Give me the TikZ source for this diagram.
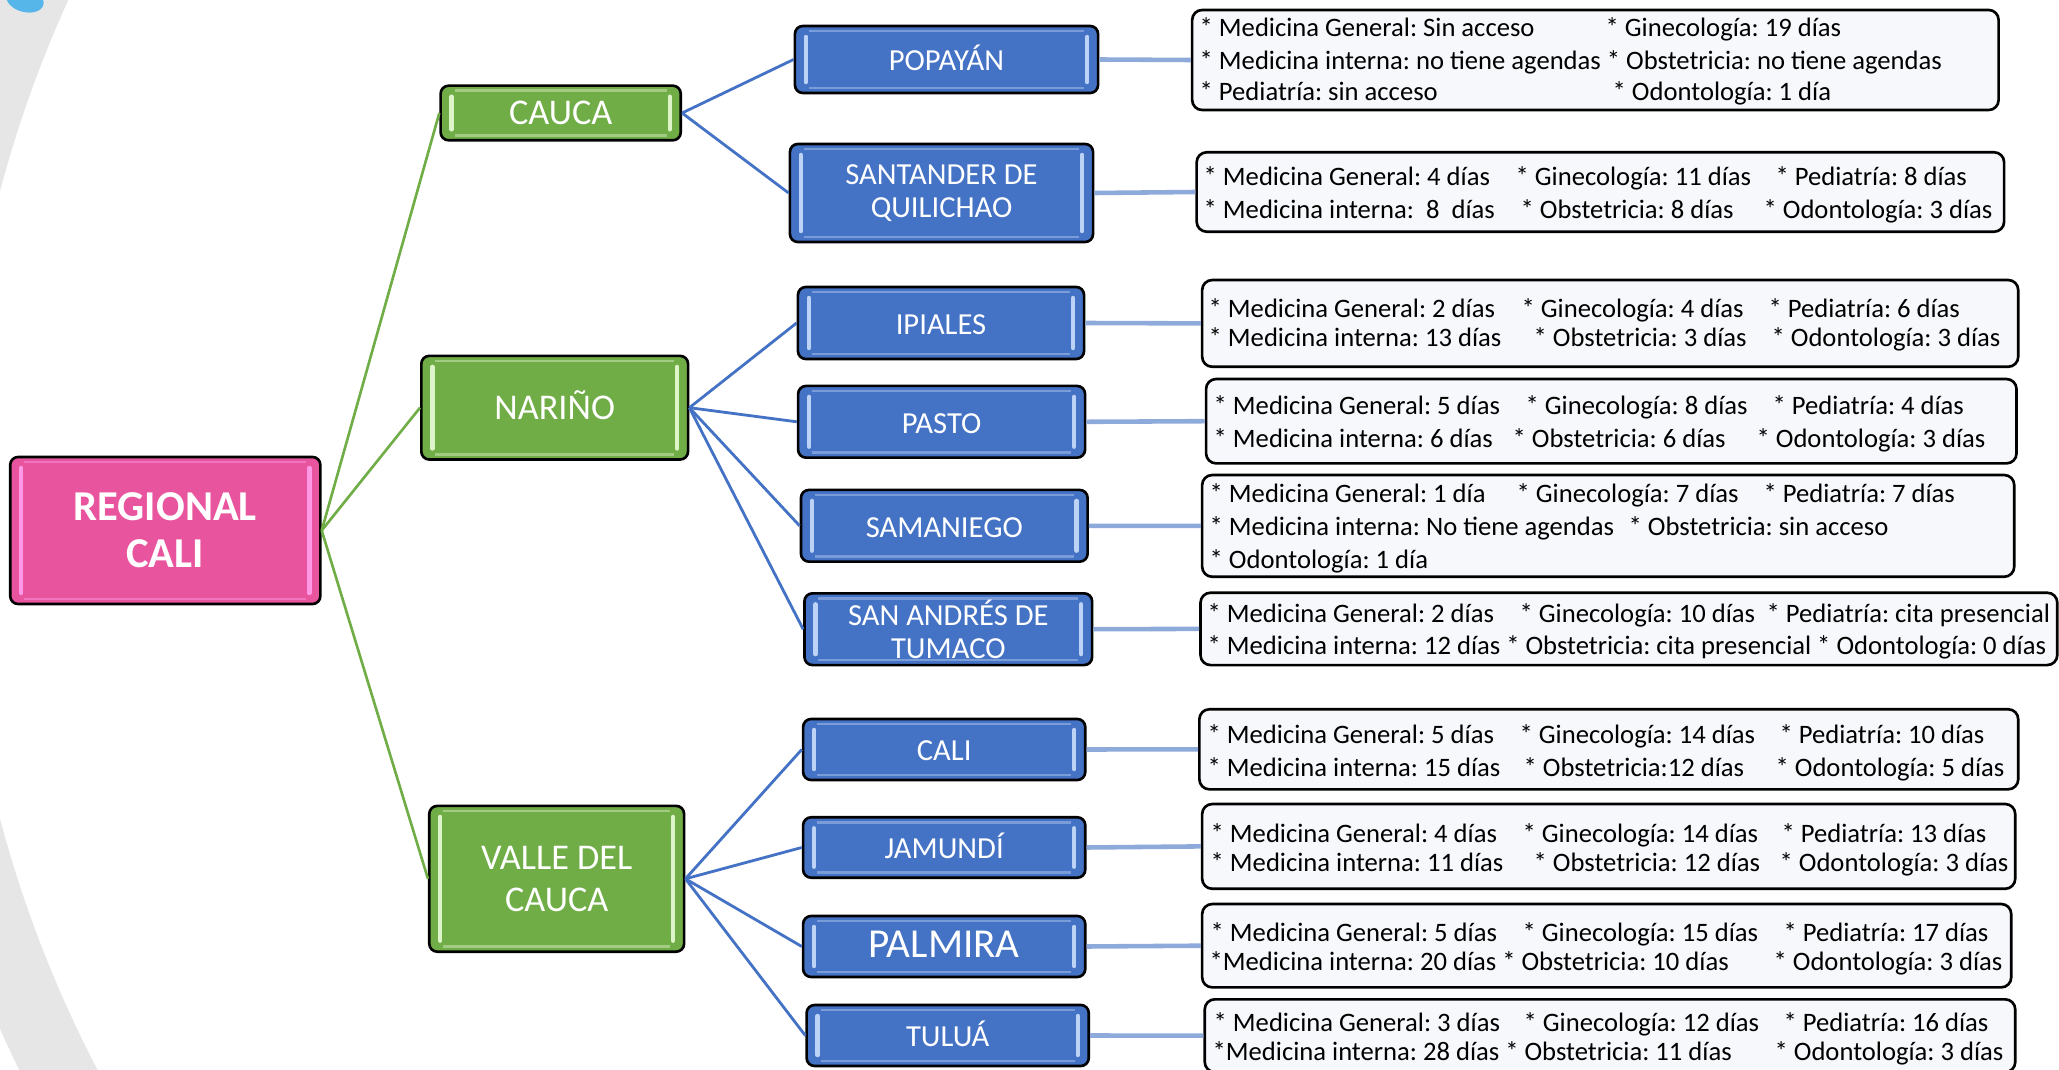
\documentclass[tikz,border=0pt]{standalone}
\usepackage{fontspec}
\setmainfont{Carlito}
\frenchspacing
\newlength\pxu \setlength\pxu{0.01cm}
\newcommand\cl[2]{\makebox[#1\pxu][l]{#2}}
\definecolor{pinkfill}{HTML}{E8549E}
\definecolor{pinkhl}{HTML}{FF99E6}
\definecolor{greenfill}{HTML}{70AD47}
\definecolor{greenhl}{HTML}{DDF3C8}
\definecolor{bluefill}{HTML}{4472C4}
\definecolor{bluehl}{HTML}{BCD3F5}
\definecolor{linkblue}{HTML}{4472C4}
\definecolor{linkgreen}{HTML}{70AD47}
\definecolor{linklight}{HTML}{8EAADB}
\definecolor{infofill}{HTML}{F6F8FB}
\definecolor{ringgray}{HTML}{E6E6E6}
\definecolor{blobblue}{HTML}{56B6EA}
\tikzset{
  tbox/.style={draw=black, line width=0.75pt, rounded corners=0.08cm, text=white, align=center, inner sep=0pt,
    path picture={
      \draw[line width=0.7pt, draw=#1, opacity=0.45]
        ([xshift=0.14cm,yshift=-0.05cm]path picture bounding box.north west) -- ([xshift=-0.14cm,yshift=-0.05cm]path picture bounding box.north east)
        ([xshift=0.14cm,yshift=0.05cm]path picture bounding box.south west) -- ([xshift=-0.14cm,yshift=0.05cm]path picture bounding box.south east);
      \draw[line width=1.25pt, line cap=round, draw=#1]
        ([xshift=0.11cm,yshift=-0.11cm]path picture bounding box.north west) -- ([xshift=0.11cm,yshift=0.11cm]path picture bounding box.south west)
        ([xshift=-0.11cm,yshift=-0.11cm]path picture bounding box.north east) -- ([xshift=-0.11cm,yshift=0.11cm]path picture bounding box.south east);}},
  oneline/.style={text height=0.644em, text depth=0pt},
  regbox/.style={tbox=pinkhl, fill=pinkfill, font=\bfseries\fontsize{12.1pt}{13.4pt}\selectfont},
  dptbox/.style={tbox=greenhl, fill=greenfill, font=\fontsize{10.3pt}{12pt}\selectfont},
  citybox/.style={tbox=bluehl, fill=bluefill, font=\fontsize{8.7pt}{9.4pt}\selectfont},
  infobox/.style={draw=black, line width=0.75pt, rounded corners=0.1cm, fill=infofill, inner sep=0pt},
  infotext/.style={anchor=base west, inner sep=0pt, font=\fontsize{7.57pt}{9pt}\selectfont, text=black},
  glink/.style={draw=linkgreen, line width=0.75pt},
  blink/.style={draw=linkblue, line width=0.8pt},
  llink/.style={draw=linklight, line width=1.3pt},
}
\begin{document}
\begin{tikzpicture}[x=0.01cm, y=-0.01cm]
\useasboundingbox (0,0) rectangle (2059,1070);
\begin{scope}
  \clip (0,0) rectangle (2059,1070);
  \fill[ringgray, even odd rule] (1180,505) circle[radius=12.9cm] (1180,505) circle[radius=12.2cm];
  \fill[blobblue, rotate around={-15:(25,0)}] (25,0) ellipse [x radius=0.19cm, y radius=0.12cm];
\end{scope}

% main boxes
\node[regbox, minimum width=3.10cm, minimum height=1.47cm] (reg) at (165.3,530.5) {REGIONAL\\CALI};
\node[dptbox, oneline, minimum width=2.40cm, minimum height=0.546cm] (cauca) at (560.7,113) {CAUCA};
\node[dptbox, oneline, minimum width=2.666cm, minimum height=1.036cm] (narino) at (554.7,407.7) {NARIÑO};
\node[dptbox, minimum width=2.547cm, minimum height=1.457cm] (valle) at (556.7,878.8) {VALLE DEL\\CAUCA};

\node[citybox, oneline, minimum width=3.03cm, minimum height=0.67cm] (pop) at (946.5,59.5) {POPAYÁN};
\node[citybox, minimum width=3.03cm, minimum height=0.98cm] (sant) at (941.5,193) {SANTANDER DE\\QUILICHAO};
\node[citybox, oneline, minimum width=2.86cm, minimum height=0.72cm] (ipi) at (941,323) {IPIALES};
\node[citybox, oneline, minimum width=2.868cm, minimum height=0.717cm] (pasto) at (941.6,421.8) {PASTO};
\node[citybox, oneline, minimum width=2.865cm, minimum height=0.717cm] (sama) at (944.3,525.8) {SAMANIEGO};
\node[citybox, minimum width=2.875cm, minimum height=0.717cm] (tum) at (948.3,629.2) {SAN ANDRÉS DE\\TUMACO};
\node[citybox, oneline, minimum width=2.82cm, minimum height=0.61cm] (cali) at (944.2,749.5) {CALI};
\node[citybox, oneline, minimum width=2.82cm, minimum height=0.604cm] (jam) at (944.2,847.5) {JAMUNDÍ};
\node[citybox, oneline, minimum width=2.82cm, minimum height=0.61cm, font=\fontsize{11.7pt}{12pt}\selectfont] (pal) at (944.2,946.5) {PALMIRA};
\node[citybox, oneline, minimum width=2.82cm, minimum height=0.61cm] (tul) at (947.7,1035.5) {TULUÁ};

% info boxes
\node[infobox, minimum width=8.06cm, minimum height=1.00cm] (i1) at (1595.4,60) {};
\node[infobox, minimum width=8.07cm, minimum height=0.794cm] (i2) at (1600.4,192) {};
\node[infobox, minimum width=8.156cm, minimum height=0.867cm] (i3) at (1610.2,323.4) {};
\node[infobox, minimum width=8.10cm, minimum height=0.843cm] (i4) at (1611.3,421.2) {};
\node[infobox, minimum width=8.116cm, minimum height=1.017cm] (i5) at (1608.2,525.9) {};
\node[infobox, minimum width=8.563cm, minimum height=0.723cm] (i6) at (1628.9,628.9) {};
\node[infobox, minimum width=8.184cm, minimum height=0.80cm] (i7) at (1608.8,749.3) {};
\node[infobox, minimum width=8.126cm, minimum height=0.847cm] (i8) at (1608.7,846.4) {};
\node[infobox, minimum width=8.086cm, minimum height=0.833cm] (i9) at (1606.7,945.7) {};
\node[infobox, minimum width=8.10cm, minimum height=0.727cm] (i10) at (1610,1035.7) {};

% info texts
\node[infotext] (t1a) at (1199,37) {\cl{406}{* Medicina General: Sin acceso}* Ginecología: 19 días};
\node[infotext] (t1b) at (1199,70) {* Medicina interna: no tiene agendas * Obstetricia: no tiene agendas};
\node[infotext] (t1c) at (1199,101) {\cl{413}{* Pediatría: sin acceso}* Odontología: 1 día};

\node[infotext] (t2a) at (1203,186) {\cl{312}{* Medicina General: 4 días}\cl{260}{* Ginecología: 11 días}* Pediatría: 8 días};
\node[infotext] (t2b) at (1203,219) {\cl{317}{* Medicina interna:\ \ 8\ \ días}\cl{243}{* Obstetricia: 8 días}* Odontología: 3 días};

\node[infotext] (t3a) at (1208,318) {\cl{313}{* Medicina General: 2 días}\cl{247}{* Ginecología: 4 días}* Pediatría: 6 días};
\node[infotext] (t3b) at (1208,347) {\cl{325}{* Medicina interna: 13 días}\cl{238}{* Obstetricia: 3 días}* Odontología: 3 días};

\node[infotext] (t4a) at (1213,415) {\cl{312}{* Medicina General: 5 días}\cl{247}{* Ginecología: 8 días}* Pediatría: 4 días};
\node[infotext] (t4b) at (1213,448) {\cl{299}{* Medicina interna: 6 días}\cl{244}{* Obstetricia: 6 días}* Odontología: 3 días};

\node[infotext] (t5a) at (1209,503) {\cl{307}{* Medicina General: 1 día}\cl{247}{* Ginecología: 7 días}* Pediatría: 7 días};
\node[infotext] (t5b) at (1209,536) {\cl{419}{* Medicina interna: No tiene agendas}* Obstetricia: sin acceso};
\node[infotext] (t5c) at (1209,568) {* Odontología: 1 día};

\node[infotext] (t6a) at (1207,623) {\cl{312}{* Medicina General: 2 días}\cl{247}{* Ginecología: 10 días}* Pediatría: cita presencial};
\node[infotext] (t6b) at (1207,655) {* Medicina interna: 12 días * Obstetricia: cita presencial * Odontología: 0 días};

\node[infotext] (t7a) at (1207,743) {\cl{312}{* Medicina General: 5 días}\cl{260}{* Ginecología: 14 días}* Pediatría: 10 días};
\node[infotext] (t7b) at (1207,776) {\cl{316}{* Medicina interna: 15 días}\cl{252}{* Obstetricia:12 días}* Odontología: 5 días};

\node[infotext] (t8a) at (1210,842) {\cl{312}{* Medicina General: 4 días}\cl{259}{* Ginecología: 14 días}* Pediatría: 13 días};
\node[infotext] (t8b) at (1210,871) {\cl{323}{* Medicina interna: 11 días}\cl{246}{* Obstetricia: 12 días}* Odontología: 3 días};

\node[infotext] (t9a) at (1210,942) {\cl{312}{* Medicina General: 5 días}\cl{261}{* Ginecología: 15 días}* Pediatría: 17 días};
\node[infotext] (t9b) at (1209,970) {\cl{564}{*Medicina interna: 20 días * Obstetricia: 10 días}* Odontología: 3 días};

\node[infotext] (t10a) at (1213,1031) {\cl{310}{* Medicina General: 3 días}\cl{260}{* Ginecología: 12 días}* Pediatría: 16 días};
\node[infotext] (t10b) at (1212,1060) {\cl{562}{*Medicina interna: 28 días * Obstetricia: 11 días}* Odontología: 3 días};

% connectors
\draw[glink] (reg.east) -- (cauca.west);
\draw[glink] (reg.east) -- (narino.west);
\draw[glink] (reg.east) -- (valle.west);

\draw[blink] (cauca.east) -- (pop.west);
\draw[blink] (cauca.east) -- (sant.west);
\draw[blink] (narino.east) -- (ipi.west);
\draw[blink] (narino.east) -- (pasto.west);
\draw[blink] (narino.east) -- (sama.west);
\draw[blink] (narino.east) -- (tum.west);
\draw[blink] (valle.east) -- (cali.west);
\draw[blink] (valle.east) -- (jam.west);
\draw[blink] (valle.east) -- (pal.west);
\draw[blink] (valle.east) -- (tul.west);

\draw[llink] (pop.east) -- (i1.west);
\draw[llink] (sant.east) -- (i2.west);
\draw[llink] (ipi.east) -- (i3.west);
\draw[llink] (pasto.east) -- (i4.west);
\draw[llink] (sama.east) -- (i5.west);
\draw[llink] (tum.east) -- (i6.west);
\draw[llink] (cali.east) -- (i7.west);
\draw[llink] (jam.east) -- (i8.west);
\draw[llink] (pal.east) -- (i9.west);
\draw[llink] (tul.east) -- (i10.west);
\end{tikzpicture}
\end{document}
